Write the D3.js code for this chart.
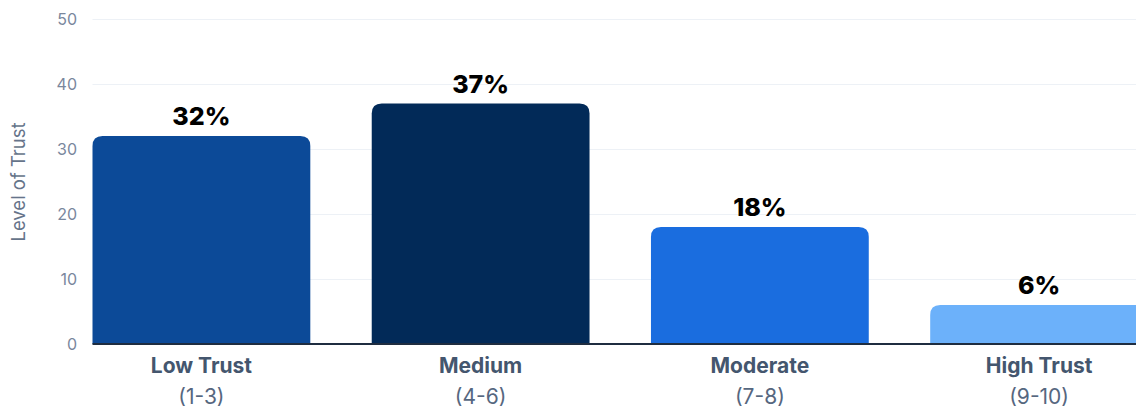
<!DOCTYPE html>
<html>
<head>
<meta charset="utf-8">
<script src="https://cdn.jsdelivr.net/npm/d3@7"></script>
<style>
  html, body { margin: 0; padding: 0; background: #ffffff; }
  svg { display: block; font-family: "Inter", "Noto Sans", sans-serif; }
</style>
</head>
<body>
<svg id="chart" width="1136" height="408"></svg>
<script>
// Trust levels and share of respondents (%)
const categories = ["Low Trust", "Medium", "Moderate", "High Trust"];
const ranges = ["(1-3)", "(4-6)", "(7-8)", "(9-10)"];
const values = [32, 37, 18, 6];
const barColors = ["#0c4a98", "#022a58", "#1a6ddf", "#6cb1fa"];
const yTicks = [0, 10, 20, 30, 40, 50];
const yTitle = "Level of Trust";

const svg = d3.select("#chart");
const plot = { left: 92.5, right: 1148, top: 19, bottom: 344 };

const x = d3.scaleBand()
  .domain(categories)
  .range([plot.left, plot.right])
  .paddingInner(0.22)
  .paddingOuter(0);

const y = d3.scaleLinear()
  .domain([0, 50])
  .range([plot.bottom, plot.top]);

// Horizontal gridlines
svg.append("g")
  .selectAll("line")
  .data(yTicks.filter(d => d > 0))
  .join("line")
  .attr("x1", plot.left)
  .attr("x2", 1136)
  .attr("y1", d => y(d) + 0.5)
  .attr("y2", d => y(d) + 0.5)
  .attr("stroke", "#edf1f6")
  .attr("stroke-width", 1);

// Y axis tick labels
const yAxis = d3.axisLeft(y).tickValues(yTicks).tickSize(0).tickPadding(0);
const yG = svg.append("g")
  .attr("transform", `translate(${77},0)`)
  .call(yAxis);
yG.select(".domain").remove();
yG.selectAll("text")
  .attr("fill", "#7a879d")
  .attr("font-size", 16)
  .attr("font-family", "Inter, sans-serif");

// Y axis title
svg.append("text")
  .attr("transform", `translate(24.5,182) rotate(-90)`)
  .attr("text-anchor", "middle")
  .attr("fill", "#66748a")
  .attr("font-size", 18.5)
  .text(yTitle);

// Bars with rounded top corners
const r = 10;
function topRounded(x0, y0, w, h) {
  const rr = Math.min(r, h, w / 2);
  return `M${x0},${y0 + h}V${y0 + rr}Q${x0},${y0} ${x0 + rr},${y0}` +
    `H${x0 + w - rr}Q${x0 + w},${y0} ${x0 + w},${y0 + rr}V${y0 + h}Z`;
}

const data = categories.map((c, i) => ({ c, v: values[i], color: barColors[i], range: ranges[i] }));

svg.append("g")
  .selectAll("path")
  .data(data)
  .join("path")
  .attr("d", d => topRounded(x(d.c), y(d.v), x.bandwidth(), y(0) - y(d.v)))
  .attr("fill", d => d.color);

// Value labels
svg.append("g")
  .selectAll("text")
  .data(data)
  .join("text")
  .attr("x", d => x(d.c) + x.bandwidth() / 2)
  .attr("y", d => y(d.v) - 11)
  .attr("text-anchor", "middle")
  .attr("font-size", 25)
  .attr("font-weight", 800)
  .attr("fill", "#000000")
  .text(d => d.v + "%");

// Baseline
svg.append("line")
  .attr("x1", plot.left)
  .attr("x2", 1136)
  .attr("y1", y(0))
  .attr("y2", y(0))
  .attr("stroke", "#1f2d40")
  .attr("stroke-width", 2);

// Category labels
const catG = svg.append("g")
  .selectAll("g")
  .data(data)
  .join("g")
  .attr("transform", d => `translate(${x(d.c) + x.bandwidth() / 2},0)`);

catG.append("text")
  .attr("y", 373)
  .attr("text-anchor", "middle")
  .attr("font-size", 21)
  .attr("font-weight", 700)
  .attr("fill", "#44566e")
  .text(d => d.c);

catG.append("text")
  .attr("y", 404)
  .attr("text-anchor", "middle")
  .attr("font-size", 21)
  .attr("font-weight", 400)
  .attr("fill", "#56677f")
  .text(d => d.range);
</script>
</body>
</html>
